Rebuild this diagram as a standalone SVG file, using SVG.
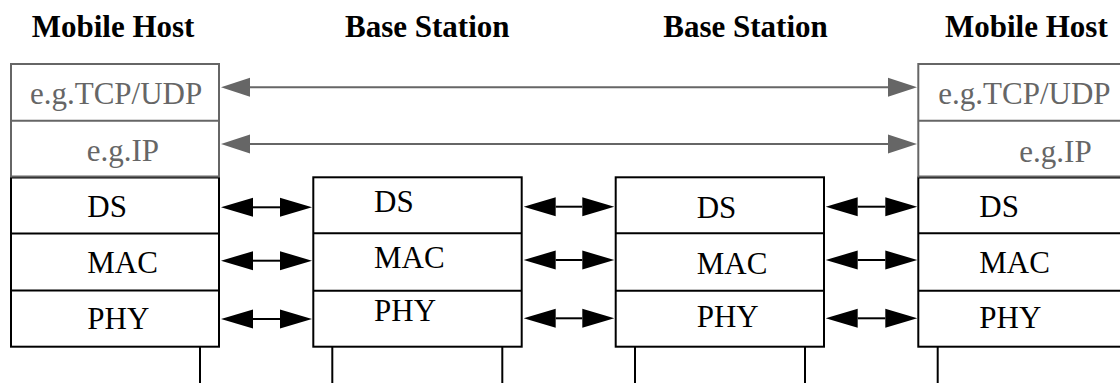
<svg xmlns="http://www.w3.org/2000/svg" width="1120" height="383" viewBox="0 0 1120 383">
  <style>
    text { font-family: "Liberation Serif", "Times New Roman", serif; font-size: 31px; }
    .head { font-weight: bold; fill: #000; }
    .lbl { fill: #000; }
    .lbl-g { fill: #666; }
    .box { fill: #fff; stroke: #000; stroke-width: 2; }
    .box-g { fill: #fff; stroke: #666; stroke-width: 2; }
    .sep { stroke: #000; stroke-width: 2; }
    .sep-g { stroke: #666; stroke-width: 2; }
    .wire { stroke: #000; stroke-width: 2; fill: none; }
    .link { stroke: #000; stroke-width: 2; fill: none; marker-start: url(#head-k); marker-end: url(#head-k); }
    .link-g { stroke: #666; stroke-width: 2; fill: none; marker-start: url(#head-g); marker-end: url(#head-g); }
  </style>
  <defs>
    <marker id="head-k" markerUnits="userSpaceOnUse" markerWidth="40" markerHeight="24" refX="0" refY="10" orient="auto-start-reverse" overflow="visible">
      <path d="M0,0.5 L32,10 L0,19.5 Z" fill="#000"/>
    </marker>
    <marker id="head-g" markerUnits="userSpaceOnUse" markerWidth="40" markerHeight="24" refX="0" refY="10" orient="auto-start-reverse" overflow="visible">
      <path d="M0,0.5 L29,10 L0,19.5 Z" fill="#666"/>
    </marker>
  </defs>

  <!-- column headings -->
  <g id="headings">
    <text class="head" x="31.7" y="37">Mobile Host</text>
    <text class="head" x="345" y="37">Base Station</text>
    <text class="head" x="663.3" y="37">Base Station</text>
    <text class="head" x="945" y="37">Mobile Host</text>
  </g>

  <!-- left mobile host stack -->
  <g id="host-left">
    <rect class="box" x="11" y="177.5" width="208" height="169.2"/>
    <line class="sep" x1="11" y1="233.5" x2="219" y2="233.5"/>
    <line class="sep" x1="11" y1="290.5" x2="219" y2="290.5"/>
    <rect class="box-g" x="11" y="64" width="208" height="112.5"/>
    <line class="sep-g" x1="11" y1="120.7" x2="219" y2="120.7"/>
    <text class="lbl-g" x="30" y="104">e.g.TCP/UDP</text>
    <text class="lbl-g" x="86.7" y="161">e.g.IP</text>
    <text class="lbl" x="87.3" y="217">DS</text>
    <text class="lbl" x="87.3" y="273">MAC</text>
    <text class="lbl" x="87.3" y="328.5">PHY</text>
    <line class="wire" x1="200" y1="346.7" x2="200" y2="383"/>
  </g>

  <!-- first base station stack -->
  <g id="base-station-1">
    <rect class="box" x="313.3" y="177.3" width="208.4" height="169.4"/>
    <line class="sep" x1="313.3" y1="233.3" x2="521.7" y2="233.3"/>
    <line class="sep" x1="313.3" y1="290.7" x2="521.7" y2="290.7"/>
    <text class="lbl" x="374" y="212.3">DS</text>
    <text class="lbl" x="374" y="268.3">MAC</text>
    <text class="lbl" x="374" y="320.7">PHY</text>
    <line class="wire" x1="332.3" y1="346.7" x2="332.3" y2="383"/>
    <line class="wire" x1="502.3" y1="346.7" x2="502.3" y2="383"/>
  </g>

  <!-- second base station stack -->
  <g id="base-station-2">
    <rect class="box" x="615.7" y="177.3" width="208.3" height="169.4"/>
    <line class="sep" x1="615.7" y1="233.3" x2="824" y2="233.3"/>
    <line class="sep" x1="615.7" y1="290.7" x2="824" y2="290.7"/>
    <text class="lbl" x="696.7" y="218.3">DS</text>
    <text class="lbl" x="696.7" y="274">MAC</text>
    <text class="lbl" x="696.7" y="327.3">PHY</text>
    <line class="wire" x1="635" y1="346.7" x2="635" y2="383"/>
    <line class="wire" x1="805" y1="346.7" x2="805" y2="383"/>
  </g>

  <!-- right mobile host stack -->
  <g id="host-right">
    <rect class="box" x="918.3" y="177.5" width="208" height="169.2"/>
    <line class="sep" x1="918.3" y1="233.3" x2="1126.3" y2="233.3"/>
    <line class="sep" x1="918.3" y1="290.7" x2="1126.3" y2="290.7"/>
    <rect class="box-g" x="918.3" y="64" width="208" height="112.5"/>
    <line class="sep-g" x1="918.3" y1="120.7" x2="1126.3" y2="120.7"/>
    <text class="lbl-g" x="938.3" y="104">e.g.TCP/UDP</text>
    <text class="lbl-g" x="1019.3" y="161.7">e.g.IP</text>
    <text class="lbl" x="979.3" y="216.7">DS</text>
    <text class="lbl" x="979.3" y="272.7">MAC</text>
    <text class="lbl" x="979.3" y="328.3">PHY</text>
    <line class="wire" x1="937.7" y1="346.7" x2="937.7" y2="383"/>
  </g>

  <!-- peer-to-peer connectors -->
  <g id="connectors">
    <line class="link-g" x1="250" y1="87.3" x2="888" y2="87.3"/>
    <line class="link-g" x1="250" y1="144" x2="888" y2="144"/>

    <line class="link" x1="253" y1="207.3" x2="280" y2="207.3"/>
    <line class="link" x1="253" y1="260.7" x2="280" y2="260.7"/>
    <line class="link" x1="253" y1="319" x2="280" y2="319"/>

    <line class="link" x1="555.7" y1="206.7" x2="582.3" y2="206.7"/>
    <line class="link" x1="555.7" y1="260" x2="582.3" y2="260"/>
    <line class="link" x1="555.7" y1="318.3" x2="582.3" y2="318.3"/>

    <line class="link" x1="857.7" y1="206.7" x2="885.3" y2="206.7"/>
    <line class="link" x1="857.7" y1="260" x2="885.3" y2="260"/>
    <line class="link" x1="857.7" y1="318.3" x2="885.3" y2="318.3"/>
  </g>
</svg>
